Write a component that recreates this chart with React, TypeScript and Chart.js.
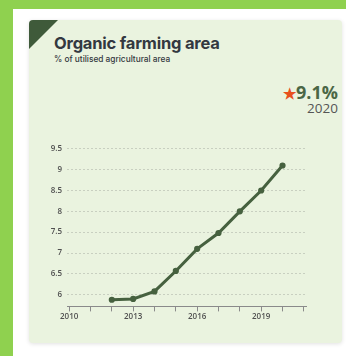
import React, { useEffect, useRef } from "react";
import { Chart, registerables } from "chart.js";

Chart.register(...registerables);

const years = [2012, 2013, 2014, 2015, 2016, 2017, 2018, 2019, 2020];
const shares = [5.88, 5.9, 6.08, 6.57, 7.1, 7.48, 8.0, 8.5, 9.1];
const yTickValues = [6, 6.5, 7, 7.5, 8, 8.5, 9, 9.5];
const xTickValues = [2010, 2011, 2012, 2013, 2014, 2015, 2016, 2017, 2018, 2019, 2020, 2021];
const xLabelledYears = [2010, 2013, 2016, 2019];

const title = "Organic farming area";
const subtitle = "% of utilised agricultural area";
const headline = "9.1%";
const headlineYear = "2020";

export default function App() {
  const ref = useRef<HTMLCanvasElement | null>(null);

  useEffect(() => {
    if (!ref.current) return;
    const chart = new Chart(ref.current, {
      type: "line",
      data: {
        datasets: [
          {
            data: years.map((y, i) => ({ x: y, y: shares[i] })),
            borderColor: "#46613f",
            backgroundColor: "#46613f",
            borderWidth: 3,
            pointRadius: 1.6,
            pointHoverRadius: 1.6,
            tension: 0,
          },
        ],
      },
      options: {
        animation: false,
        responsive: false,
        maintainAspectRatio: false,
        layout: { padding: { top: 4, right: 11, left: 0, bottom: 0 } },
        plugins: { legend: { display: false }, tooltip: { enabled: false } },
        scales: {
          x: {
            type: "linear",
            min: 2009.9,
            max: 2021.1,
            afterBuildTicks: (s: any) => {
              s.ticks = xTickValues.map((v) => ({ value: v }));
            },
            ticks: {
              autoSkip: false,
              maxRotation: 0,
              padding: 1,
              color: "#505050",
              font: { family: "Open Sans", size: 8, weight: "600" },
              callback: (v: any) => (xLabelledYears.includes(Number(v)) ? String(v) : ""),
            },
            grid: {
              drawOnChartArea: false,
              drawTicks: true,
              tickLength: 5,
              color: "#8a8a8a",
            },
            border: { display: true, color: "#8a8a8a", width: 1 },
          },
          y: {
            min: 5.72,
            max: 9.5,
            afterBuildTicks: (s: any) => {
              s.ticks = yTickValues.map((v) => ({ value: v }));
            },
            afterFit: (s: any) => {
              s.width = 32;
            },
            ticks: {
              padding: 5,
              color: "#505050",
              font: { family: "Open Sans", size: 8, weight: "600" },
              callback: (v: any) => String(v),
            },
            grid: {
              drawTicks: false,
              color: "#c8cfc0",
              lineWidth: 1,
            },
            border: { display: false, dash: [2, 2] },
          },
        },
      },
    });
    return () => chart.destroy();
  }, []);

  return (
    <div
      style={{
        position: "fixed",
        left: 0,
        top: 0,
        width: 346,
        height: 356,
        background: "#8fd14f",
        overflow: "hidden",
        fontFamily: "Inter, 'Open Sans', sans-serif",
      }}
    >
      <div
        style={{
          position: "absolute",
          left: 13,
          top: 9,
          width: 340,
          height: 360,
          background: "#ffffff",
        }}
      />
      <div
        style={{
          position: "absolute",
          left: 29,
          top: 20,
          width: 313,
          height: 323,
          background: "#eaf3df",
          borderRadius: 4,
          boxShadow: "0 1px 4px rgba(0,0,0,0.12)",
          overflow: "hidden",
        }}
      >
        <div
          style={{
            position: "absolute",
            left: 0,
            top: 0,
            width: 0,
            height: 0,
            borderTop: "29px solid #3f5a3a",
            borderRight: "29px solid transparent",
          }}
        />
        <div
          style={{
            position: "absolute",
            left: 25,
            top: 13,
            fontSize: 16.5,
            fontWeight: 700,
            color: "#333840",
            letterSpacing: -0.2,
            whiteSpace: "nowrap",
          }}
        >
          {title}
        </div>
        <div
          style={{
            position: "absolute",
            left: 25,
            top: 34,
            fontSize: 8.3,
            fontWeight: 500,
            color: "#333840",
            whiteSpace: "nowrap",
          }}
        >
          {subtitle}
        </div>
        <div
          style={{
            position: "absolute",
            right: 4,
            top: 63,
            textAlign: "right",
            fontFamily: "'Open Sans', sans-serif",
            lineHeight: 1,
          }}
        >
          <div style={{ fontSize: 18, fontWeight: 700, color: "#4a6645", whiteSpace: "nowrap" }}>
            <span style={{ color: "#e8501e", fontSize: 15 }}>★</span>
            {headline}
          </div>
          <div style={{ fontSize: 13.5, color: "#555", marginTop: 1 }}>{headlineYear}</div>
        </div>
        <canvas
          ref={ref}
          width={282}
          height={184}
          style={{ position: "absolute", left: 6, top: 119, width: 282, height: 184 }}
        />
      </div>
    </div>
  );
}
